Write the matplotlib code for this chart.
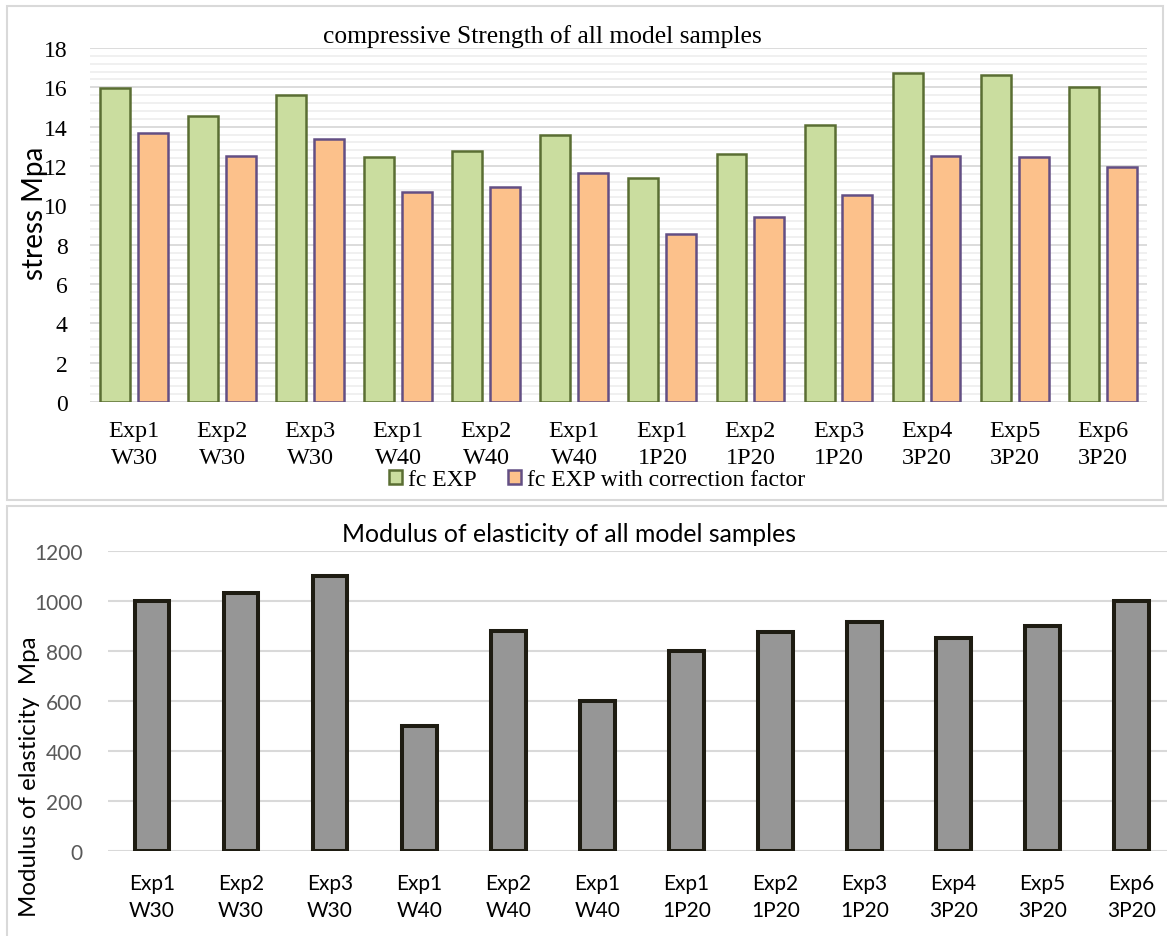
import matplotlib
matplotlib.use("Agg")
import matplotlib.pyplot as plt
import numpy as np
from matplotlib.patches import Rectangle, Patch
from matplotlib.ticker import MultipleLocator

categories = ["Exp1\nW30", "Exp2\nW30", "Exp3\nW30", "Exp1\nW40", "Exp2\nW40", "Exp1\nW40",
              "Exp1\n1P20", "Exp2\n1P20", "Exp3\n1P20", "Exp4\n3P20", "Exp5\n3P20", "Exp6\n3P20"]
fc_exp = [15.95, 14.54, 15.61, 12.46, 12.75, 13.57, 11.40, 12.59, 14.08, 16.71, 16.62, 16.00]
fc_corr = [13.69, 12.49, 13.39, 10.68, 10.93, 11.64, 8.56, 9.42, 10.54, 12.50, 12.44, 11.96]
modulus = [1000, 1030, 1100, 500, 880, 600, 800, 875, 915, 850, 900, 1000]

W, H = 1167, 937
fig = plt.figure(figsize=(W / 100, H / 100), dpi=100)

def fx(px):
    return px / W

def fy(py):
    return 1 - py / H

# panel borders
fig.patches.append(Rectangle((fx(7), fy(501)), fx(1163) - fx(7), fy(7) - fy(501),
                             transform=fig.transFigure, fill=False, edgecolor="#d9d9d9", lw=1.5))
fig.patches.append(Rectangle((fx(7), fy(960)), fx(1190) - fx(7), fy(507) - fy(960),
                             transform=fig.transFigure, fill=False, edgecolor="#d9d9d9", lw=1.5))

serif = ["Liberation Serif", "DejaVu Serif"]
sans = ["Lato", "DejaVu Sans"]

# ---------- top chart ----------
ax1 = fig.add_axes([fx(90), fy(403), fx(1146.7) - fx(90), fy(49) - fy(403)])
x = np.arange(len(categories))
bw = 0.34
off = 0.215
ax1.bar(x - off, fc_exp, bw, color="#cadd9f", edgecolor="#5a6e33", lw=1.8, zorder=3)
ax1.bar(x + off, fc_corr, bw, color="#fcc18b", edgecolor="#634f84", lw=1.8, zorder=3)
ax1.set_xlim(-0.5, len(categories) - 0.5)
ax1.set_ylim(0, 18)
ax1.yaxis.set_major_locator(MultipleLocator(2))
ax1.yaxis.set_minor_locator(MultipleLocator(0.4))
ax1.grid(which="major", axis="y", color="#d9d9d9", lw=1.3, zorder=1)
ax1.grid(which="minor", axis="y", color="#efefef", lw=1.3, zorder=0)
for s in ax1.spines.values():
    s.set_visible(False)
ax1.set_xticks(x)
ax1.set_xticklabels(categories, family=serif, fontsize=17.5, linespacing=1.35)
ax1.tick_params(axis="both", which="both", length=0)
ax1.tick_params(axis="x", pad=13)
ax1.tick_params(axis="y", pad=16)
for t in ax1.get_yticklabels():
    t.set_family(serif)
    t.set_fontsize(17)
ax1.set_ylabel("stress Mpa", family=sans, fontsize=20)
ax1.yaxis.set_label_coords(-0.04, 0.535)
fig.text(fx(542), fy(37), "compressive Strength of all model samples", family=serif,
         fontsize=18.4, ha="center", va="center")
handles = [Patch(facecolor="#cadd9f", edgecolor="#5a6e33", lw=1.8),
           Patch(facecolor="#fcc18b", edgecolor="#634f84", lw=1.8)]
fig.legend(handles, ["fc EXP", "fc EXP with correction factor"], loc="center",
           bbox_to_anchor=(fx(597), fy(481)), ncol=2, frameon=False,
           prop={"family": serif, "size": 17}, handlelength=0.55, handleheight=0.55,
           handletextpad=0.25, columnspacing=1.3, borderpad=0, borderaxespad=0)

# ---------- bottom chart ----------
ax2 = fig.add_axes([fx(107.5), fy(851.7), fx(1176) - fx(107.5), fy(551.7) - fy(851.7)])
ax2.bar(x, modulus, 0.39, color="#969696", edgecolor="#1e1c12", lw=2.9, zorder=3)
ax2.set_xlim(-0.5, len(categories) - 0.5)
ax2.set_ylim(0, 1200)
ax2.yaxis.set_major_locator(MultipleLocator(200))
ax2.grid(which="major", axis="y", color="#d9d9d9", lw=1.5, zorder=0)
for s in ax2.spines.values():
    s.set_visible(False)
ax2.set_xticks(x)
ax2.set_xticklabels(categories, family=sans, fontsize=15, linespacing=1.45)
ax2.tick_params(axis="both", length=0)
ax2.tick_params(axis="x", pad=16)
ax2.tick_params(axis="y", pad=18, labelcolor="#595959")
for t in ax2.get_yticklabels():
    t.set_family(sans)
    t.set_fontsize(15)
ax2.set_ylabel("Modulus of elasticity  Mpa", family=sans, fontsize=17.3)
ax2.yaxis.set_label_coords(-0.063, 0.249)
fig.text(fx(569), fy(535), "Modulus of elasticity of all model samples", family=sans,
         fontsize=17.8, ha="center", va="center")

fig.savefig("out.png", dpi=100)
